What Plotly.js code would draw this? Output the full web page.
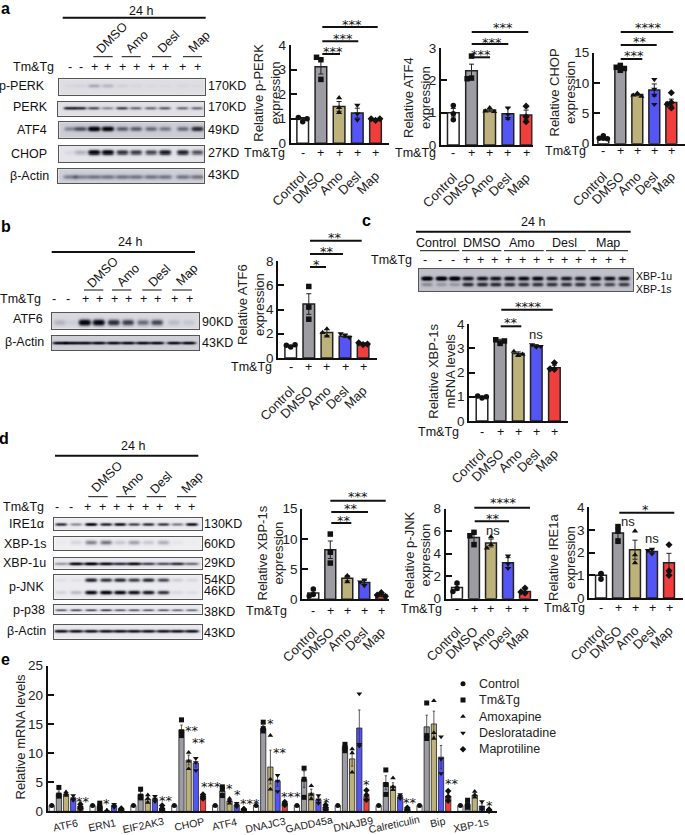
<!DOCTYPE html>
<html><head><meta charset="utf-8">
<script src="https://cdn.plot.ly/plotly-3.0.1.min.js"></script>
<style>html,body{margin:0;padding:0;background:#fff}#g{width:685px;height:835px}</style>
</head><body><div id="g"></div>
<script>
// ---------- DATA ----------
const groupNames=['Control','DMSO','Amo','Desl','Map'];
const groupColors=['#ffffff','#9c9ca2','#bdb27a','#5555f5','#f23d3d'];
const groupSymbols=['circle','square','triangle-up','triangle-down','diamond'];

const pPerkMeans=[1.0,3.12,1.5,1.23,0.98], pPerkErr=[0.05,0.3,0.2,0.2,0.03];
const pPerkPts=[[0.88,1.05,1.0],[3.4,3.5,2.6],[1.85,1.45,1.25],[1.55,1.2,0.95],[0.93,1.0,1.0]];
const atf4Means=[1.0,2.3,1.08,0.97,0.93], atf4Err=[0.13,0.2,0.05,0.18,0.15];
const atf4Pts=[[1.22,0.97,0.78],[2.75,2.07,2.05],[1.15,1.05,1.03],[1.15,0.95,0.82],[1.2,0.87,0.72]];
const chopMeans=[1.0,12.5,8.1,8.85,6.8], chopErr=[0.2,0.2,0.2,1.0,0.55];
const chopPts=[[1.3,0.9,0.8,0.9],[12.9,12.6,12.4,12.1],[8.3,8.2,8.0,7.8],[10.6,9.0,8.0,6.5],[8.4,6.8,6.5,5.9]];
const atf6Means=[1.0,4.45,2.1,1.8,1.2], atf6Err=[0.05,0.85,0.25,0.12,0.04];
const atf6Pts=[[0.9,1.05,1.1],[5.9,4.2,3.2],[2.4,2.1,1.8],[1.9,2.0,1.7],[1.1,1.25,1.15]];
const xbpMrnaMeans=[1.0,3.3,2.78,3.1,2.2], xbpMrnaErr=[0.03,0.07,0.07,0.05,0.1];
const xbpMrnaPts=[[0.95,1.03,1.0],[3.2,3.35,3.3],[2.7,2.87,2.75],[3.05,3.15,3.08],[2.13,2.4,2.15]];
const xbpMeans=[1.05,8.2,3.5,2.8,0.75], xbpErr=[0.35,1.45,0.45,0.3,0.3];
const xbpPts=[[1.7,0.8,0.55],[10.8,7.8,6.0],[3.9,3.8,2.9],[3.2,2.9,2.3],[1.1,0.7,0.5]];
const pJnkMeans=[1.0,5.45,4.95,3.2,0.65], pJnkErr=[0.25,0.45,0.35,0.45,0.15];
const pJnkPts=[[1.4,0.9,0.65],[5.9,5.6,4.8],[5.5,4.8,4.5],[3.8,3.1,2.7],[0.95,0.6,0.5]];
const ireMeans=[1.0,2.87,2.13,2.05,1.55], ireErr=[0.1,0.25,0.42,0.07,0.42];
const irePts=[[1.08,1.05,0.83],[3.15,2.95,2.5],[2.95,1.9,1.55],[2.15,2.1,1.95],[2.35,1.2,1.0]];

const genes=['ATF6','ERN1','EIF2AK3','CHOP','ATF4','DNAJC3','GADD45a','DNAJB9','Calreticulin','Bip','XBP-1s'];
const legendNames=['Control','Tm&Tg','Amoxapine','Desloratadine','Maprotiline'];
const mrnaControl=[1,1,1,1,1,1,1,1,1,1,1];
const mrnaTm=[3.0,0.9,2.9,14,3.5,14.2,5.5,11.1,4.9,14.5,1.2];
const mrnaAmo=[2.9,0.1,2.1,8.8,1.8,7.6,3.1,9,4.3,15,2.8];
const mrnaDes=[2.2,1.0,2.1,8.3,1.1,5.2,2,14.3,2.5,9.3,0.9];
const mrnaMap=[0.8,0.35,0.5,2.6,0.3,1.3,0.7,2.6,0.4,2.6,0.2];
const mrnaTmErr=[0.5,0.3,0.5,0.8,0.4,0.5,1.4,0.3,1.2,2,0.35];
const mrnaAmoErr=[0.2,0.05,0.4,0.85,0.25,2.9,0.7,1.25,0.6,2.2,0.3];
const mrnaDesErr=[0.3,0.15,0.3,0.7,0.2,0.9,0.4,3.1,0.2,2,0.4];
const mrnaMapErr=[0.2,0.1,0.2,0.2,0.05,0.15,0.2,0.5,0.1,0.5,0.05];
const mrnaTmPts=[[4.1,2.8,2.6],[1.4,0.8,0.4],[3.8,2.6,2.3],[15.7,13.6,13],[4.2,3.8,2.7],[15.3,14.2,13.8],[7.4,5.5,2.4],[11.5,11,10.4],[7.1,4.6,2.9],[18.6,13,12.5],[1.9,1.1,0.7]];
const mrnaAmoPts=[[3.3,3.0,2.7],[0.2,0.1,0.05],[2.8,2.2,1.5],[10.1,8.6,7.3],[2.2,1.8,1.4],[13,5.5,3.8],[4.4,2.9,2.1],[10.7,10,6.7],[5.7,4.2,3.7],[19,13.5,12.5],[3.4,2.8,2.4]];
const mrnaDesPts=[[2.7,2.2,1.9],[1.2,0.9,0.7],[2.6,2.1,1.7],[9.1,8.4,7],[1.4,1.1,0.8],[6.2,5.2,3.4],[2.7,2,1.4],[20.2,11.5,11.2],[2.9,2.6,2.2],[12.8,9,6.5],[1.7,0.7,0.3]];
const mrnaMapPts=[[1.2,0.8,0.5],[0.5,0.3,0.2],[1.0,0.5,0.2],[2.9,2.6,2.2],[0.4,0.3,0.2],[1.6,1.3,1.1],[1.1,0.7,0.3],[3.6,2.8,2.0],[0.6,0.4,0.2],[3.5,2.5,1.8],[0.3,0.2,0.1]];

// Western-blot band strength per lane (0..1)
const bPPerk=[.03,.04,.2,.15,.05,.03,.02,.02,.03,.02];
const bPerk=[.7,.65,.5,.3,.55,.4,.4,.45,.4,.4];
const bAtf4=[.25,.45,.95,.9,.4,.4,.35,.3,.35,.65];
const bChop=[.05,.2,1,1,.7,.65,.6,.85,.8,.55];
const bActinA=[.28,.28,.32,.32,.32,.32,.32,.32,.32,.32];
const bAtf6=[.15,.05,1,.95,.7,.6,.4,.55,.12,.08];
const bActinB=[.8,.8,.8,.8,.8,.8,.8,.8,.8,.8];
const bXbpU=[1,1,1,.75,.75,.75,.8,.8,.85,.7,.7,.7,.85,.75,.75];
const bXbpS=[.2,.15,.15,.6,.6,.6,.55,.55,.55,.55,.55,.55,.45,.45,.5];
const bIre=[.7,.35,.95,.75,.85,.6,.7,.65,.4,.85];
const bXbp1s=[.02,.1,.4,.45,.15,.3,.15,.25,.04,.01];
const bXbp1u=[.3,.9,1,.9,.7,.9,.6,.55,.7,.45];
const bJnk54=[.05,.05,.8,.7,.75,.65,.75,.6,.12,.08];
const bJnk46=[.1,.2,.95,1,.95,.9,.85,.7,.08,.06];
const bP38=[.5,.55,.55,.6,.5,.5,.5,.5,.45,.45];
const bActinD=[.85,.85,.85,.85,.85,.85,.85,.85,.85,.85];

// ---------- LAYOUT (pixel geometry of the figure) ----------
const W=685,H=835,FONT='"Liberation Sans",Arial,sans-serif',FS=12.5;
const lanesA=[70,80.7,94,107.7,122.3,136,151,165,182.7,197.3];
const lanesB=[60,72,85,99,114,128.3,143.3,157.3,174.3,189];
const lanesC=[427.3,441.7,455,468.3,482.7,496,510,524,538,552.3,566.7,580.7,595.7,610,624.3];
const lanesD=[61,76,91,106,120,134,148.3,163.3,177.3,191.7];

const blots=[
 {box:[59.3,205,79.3,94.7],lanes:lanesA,bands:[[.42,bPPerk]],bg:.1,w:6,h:2},
 {box:[57.7,204.3,101.7,115.7],lanes:lanesA,bands:[[.45,bPerk]],bg:.09,w:6,h:1.6},
 {box:[59.3,204.3,122.3,137.7],lanes:lanesA,bands:[[.42,bAtf4]],bg:.17,w:6,h:2.4},
 {box:[59.3,204.3,146,162.3],lanes:lanesA,bands:[[.39,bChop]],bg:.07,w:6,h:2.4},
 {box:[58.3,203.7,169.3,183],lanes:lanesA,bands:[[.55,bActinA]],bg:.16,w:7,h:2.4},
 {box:[51.7,199.3,312.7,328.7],lanes:lanesB,bands:[[.6,bAtf6]],bg:.12,w:6,h:3},
 {box:[51.7,199.3,335.7,350.3],lanes:lanesB,bands:[[.52,bActinB]],bg:.16,w:7,h:1.5},
 {box:[418.7,633.3,268.7,291],lanes:lanesC,bands:[[.43,bXbpU],[.7,bXbpS]],bg:.22,w:5.5,h:2},
 {box:[54.3,202.3,518.3,530.3],lanes:lanesD,bands:[[.5,bIre]],bg:.04,w:6,h:1.6},
 {box:[54.3,201.7,537.3,550],lanes:lanesD,bands:[[.4,bXbp1s]],bg:.03,w:6,h:2.4},
 {box:[54.3,201.7,558,568.7],lanes:lanesD,bands:[[.55,bXbp1u]],bg:.05,w:7,h:1.6},
 {box:[54.3,201.7,575.3,598.7],lanes:lanesD,bands:[[.2,bJnk54],[.73,bJnk46]],bg:.04,w:6,h:2},
 {box:[54.3,201.7,605,613.7],lanes:lanesD,bands:[[.6,bP38]],bg:.05,w:6,h:1.2},
 {box:[54.3,201.7,625,638.7],lanes:lanesD,bands:[[.46,bActinD]],bg:.05,w:7,h:1.6},
];

const charts=[
 {m:pPerkMeans,e:pPerkErr,p:pPerkPts,x0:290.7,x1:389,yt:45,yb:143.3,c0:302.7,st:18.2,ymax:4,dt:1,
  title:'Relative p-PERK<br>expression',tx:267,ty:92.7,tm:[264.3,152.7],
  sig:[[322.3,340,54,'***',332.7,49],[322.3,358.3,41.3,'***',343.3,36],[322.3,377.7,27,'***',352.3,22]]},
 {m:atf4Means,e:atf4Err,p:atf4Pts,x0:441,x1:532.7,yt:48,yb:145,c0:453.3,st:18.2,ymax:3,dt:1,
  title:'Relative ATF4<br>expression',tx:417,ty:98,tm:[415,152.7],
  sig:[[471.7,490,57.3,'***',481.3,52],[471.7,508.3,44,'***',492.3,39.7],[471.7,528.3,32,'***',503.3,25]]},
 {m:chopMeans,e:chopErr,p:chopPts,x0:594,x1:685,yt:52.7,yb:143.7,c0:603.3,st:17,ymax:15,dt:5,
  title:'Relative CHOP<br>expression',tx:562.5,ty:93,tm:[565.7,151],
  sig:[[620.7,642.3,59,'***',634.3,53],[620.7,656.7,45,'**',640,39],[620.7,673.3,32,'****',648.3,25]]},
 {m:atf6Means,e:atf6Err,p:atf6Pts,x0:278.3,x1:376.7,yt:261,yb:358,c0:290.7,st:18.1,ymax:8,dt:2,
  title:'Relative ATF6<br>expression',tx:251,ty:305,tm:[252,366.7],
  sig:[[310,326,267,'*',316.7,262],[310,343,254,'**',326.7,248.7],[310,361.7,240.7,'**',335,235]]},
 {m:xbpMrnaMeans,e:xbpMrnaErr,p:xbpMrnaPts,x0:469.3,x1:568.3,yt:324,yb:421,c0:482,st:18.1,ymax:4,dt:1,
  title:'Relative XBP-1s<br>mRNA levels',tx:442,ty:371.7,tm:[438.7,431.7],
  sig:[[500.7,521.3,326.3,'**',510.7,320],[501.3,552.7,309.7,'****',528.3,304.3]],ns:[[535.7,334]]},
 {m:xbpMeans,e:xbpErr,p:xbpPts,x0:302.3,x1:389.3,yt:508.7,yb:599.3,c0:313.3,st:17,ymax:15,dt:5,
  title:'Relative XBP-1s<br>expression',tx:270.5,ty:553,tm:[266,611],
  sig:[[331.3,351.3,523,'**',343.7,518],[331.3,368,512,'**',350.7,506.3],[330.3,385.7,500.7,'***',358.3,494.3]]},
 {m:pJnkMeans,e:pJnkErr,p:pJnkPts,x0:445.7,x1:537.7,yt:508.7,yb:598.7,c0:457,st:17,ymax:8,dt:2,
  title:'Relative p-JNK<br>expression',tx:417.5,ty:555,tm:[421,608.7],
  sig:[[474.7,509,521.3,'**',493.3,516.3],[474.3,530,507.7,'****',503.3,500.3]],ns:[[492.7,530.7]]},
 {m:ireMeans,e:ireErr,p:irePts,x0:589.3,x1:683,yt:507.3,yb:598,c0:601,st:17,ymax:4,dt:1,
  title:'Relative IRE1a<br>expression',tx:562,ty:558,tm:[564,607.7],
  sig:[[619.3,674.3,512.7,'*',645.7,507.3]],ns:[[628.3,521.3],[652.3,538.3]]},
];

const eAxis={x0:47.7,x1:496.7,yt:665.7,yb:811.3,c0:51.7,period:40.87,bar:7.17,ymax:25,dt:5};
const eGeneX=[65,101.7,143.3,189.3,224.3,265,309.3,353,394,437.7,470.7];
const eGeneY=[825,825,824.5,824,824,825,824,824,823.5,822,825];
const eStars=[[83.3,799,'**'],[106.7,800.7,'*'],[165.7,798.3,'**'],[192,728,'**'],[199.3,739.7,'**'],[210.7,784,'***'],
 [230,785.7,'*'],[237.3,791.7,'*'],[250,800.7,'***'],[270.7,720.7,'*'],[280,749.7,'**'],[290.7,794,'***'],[326.7,800,'*'],
 [366.7,782.3,'*'],[410,800,'**'],[451.7,781.3,'**'],[489.3,803,'*']];
const legendRows={x0:453,x1:473,yt:675.5,yb:757.5,textX:478.3};

const headers=[
 {h24:[140.7,11],line:[62.7,205.7,17.7],gy:56.7,
  groups:[[93.3,112.7,'DMSO',111.7,37.7],[121.7,140.7,'Amo',136.7,41.7],[152,171.3,'Desl',168.3,41.7],[183,202,'Map',199,41.7]],
  tm:[33.3,66.7],signs:[[70,'-'],[80.7,'-'],[94,'+'],[107.7,'+'],[122.3,'+'],[136,'+'],[151,'+'],[165,'+'],[182.7,'+'],[197.3,'+']]},
 {h24:[130,241.7],line:[51.7,195,252],gy:290,
  groups:[[84,103.3,'DMSO',103.3,272.3],[112,131.3,'Amo',128.3,274.7],[142.3,161.7,'Desl',159.3,276],[172.3,192,'Map',187,275]],
  tm:[20.7,299],signs:[[54.3,'-'],[68.3,'-'],[85,'+'],[99,'+'],[114,'+'],[128.3,'+'],[143.3,'+'],[157.3,'+'],[174.3,'+'],[189,'+']]},
 {h24:[133.3,445.7],line:[55,198.3,455.7],gy:496.7,
  groups:[[88.3,107.7,'DMSO',106.7,476.7],[116.3,135.7,'Amo',132.3,482.7],[146.7,166,'Desl',161,483.3],[177,196.3,'Map',191.7,482.7]],
  tm:[23.3,506.7],signs:[[56.7,'-'],[71,'-'],[87.3,'+'],[102,'+'],[116.3,'+'],[130.7,'+'],[145,'+'],[159.3,'+'],[177.7,'+'],[191.7,'+']]},
];
const blotLabels=[['p-PERK',22,86],['PERK',30.7,107],['ATF4',32,130],['CHOP',29,154],['β-Actin',29.3,175.7],
 ['ATF6',28.3,319],['β-Actin',24,342.3],
 ['IRE1α',26.7,524],['XBP-1s',25,544.3],['XBP-1u',24.3,563.3],['p-JNK',26,587.3],['p-p38',29.3,610.3],['β-Actin',26,631]];
const kdLabels=[['170KD',206.7,86],['170KD',206.7,107],['49KD',206.7,130],['27KD',206.7,153],['43KD',206.7,175],
 ['90KD',201,321.7],['43KD',201,343],
 ['130KD',202.7,524],['60KD',202.7,543.7],['29KD',202.7,563.3],['54KD',202.7,580],['46KD',202.7,591.3],['38KD',202.7,612.3],['43KD',202.7,632.7]];
const panelLetters=[['a',5,9],['b',6,226],['c',366.7,220],['d',4,438],['e',5.7,659]];

// ---------- BUILD ----------
const px=x=>x/W, py=y=>1-y/H;
const traces=[],annotations=[],shapes=[],layout={
 width:W,height:H,margin:{l:0,r:0,t:0,b:0},paper_bgcolor:'#fff',plot_bgcolor:'rgba(0,0,0,0)',
 font:{family:FONT,size:FS,color:'#111'},showlegend:false,bargap:0
};
let axN=0;
function newAxes(xo,yo){axN++;const k=axN===1?'':axN;
 layout['xaxis'+k]=Object.assign({anchor:'y'+k,fixedrange:true},xo);
 layout['yaxis'+k]=Object.assign({anchor:'x'+k,fixedrange:true},yo);
 return {x:'x'+k,y:'y'+k};}
function T(x,y,text,o={}){annotations.push(Object.assign({xref:'paper',yref:'paper',x:px(x),y:py(y),text,showarrow:false,
  xanchor:'center',yanchor:'middle',borderpad:0,font:{family:FONT,size:FS,color:'#111'}},o));}
function L(x0,x1,y,w=1){shapes.push({type:'line',xref:'paper',yref:'paper',x0:px(x0),x1:px(x1),y0:py(y),y1:py(y),line:{color:'#111',width:w}});}
const starFont={family:'"DejaVu Sans",sans-serif',size:13,color:'#111'};

// Blots: band strengths per lane become an image-like heatmap
const blotScale=[[0,'#f6f6f8'],[.25,'#b9b9c4'],[.6,'#55555f'],[1,'#08080e']];
blots.forEach(b=>{
 const [l,r,t,bo]=b.box,xs=[],ys=[],z=[];
 for(let x=l;x<=r;x+=1)xs.push(x);
 for(let y=t;y<=bo;y+=.5)ys.push(y);
 ys.forEach(y=>{z.push(xs.map(x=>{let v=b.bg;
  b.bands.forEach(([f,vals])=>{const yc=t+(bo-t)*f;
   b.lanes.forEach((c,i)=>{v+=vals[i]*Math.exp(-Math.pow((x-c)/b.w,4))*Math.exp(-Math.pow((y-yc)/b.h,2));});});
  return Math.min(v,1);}));});
 const a=newAxes(
  {domain:[px(l),px(r)],range:[l,r],showticklabels:false,ticks:'',showgrid:false,zeroline:false,showline:true,mirror:true,linecolor:'#555',linewidth:1},
  {domain:[py(bo),py(t)],range:[bo,t],showticklabels:false,ticks:'',showgrid:false,zeroline:false,showline:true,mirror:true,linecolor:'#555',linewidth:1});
 traces.push({type:'heatmap',x:xs,y:ys,z,zmin:0,zmax:1,colorscale:blotScale,showscale:false,hoverinfo:'skip',showlegend:false,xaxis:a.x,yaxis:a.y});
});

// Point placement: avoid overlap inside a bar (pixel distance)
function swarm(vals,unitPx,stepPx){const placed=[],cand=[0,-.24,.24,-.12,.12];
 return vals.map(v=>{for(const c of cand){
   if(placed.every(p=>Math.hypot((p[0]-c)*stepPx,(p[1]-v)*unitPx)>4.2)){placed.push([c,v]);return c;}}
   placed.push([0,v]);return 0;});}

// Bar panels a-d
charts.forEach(c=>{
 const ticks=[];for(let v=0;v<=c.ymax;v+=c.dt)ticks.push(v);
 const a=newAxes(
  {domain:[px(c.x0),px(c.x1)],range:[(c.x0-c.c0)/c.st,(c.x1-c.c0)/c.st],tickmode:'array',tickvals:[0,1,2,3,4],ticktext:groupNames,
   tickangle:-45,ticks:'',ticklabelstandoff:18,showgrid:false,zeroline:false,showline:true,linecolor:'#111',linewidth:2,tickfont:{family:FONT,size:13,color:'#222'}},
  {domain:[py(c.yb),py(c.yt)],range:[0,c.ymax],tickmode:'array',tickvals:ticks,ticks:'inside',ticklen:6,tickwidth:2,tickcolor:'#111',
   showgrid:false,zeroline:false,showline:true,linecolor:'#111',linewidth:2,tickfont:{family:FONT,size:13.5,color:'#222'}});
 traces.push({type:'bar',x:[0,1,2,3,4],y:c.m,width:.64,marker:{color:groupColors,line:{color:'#222',width:1.5}},
  error_y:{type:'data',array:c.e,visible:true,thickness:1,width:2.5,color:'#222'},showlegend:false,hoverinfo:'skip',cliponaxis:false,xaxis:a.x,yaxis:a.y});
 const unit=(c.yb-c.yt)/c.ymax,xs=[],ys=[],sy=[];
 c.p.forEach((vals,i)=>{const off=swarm(vals,unit,c.st);vals.forEach((v,j)=>{xs.push(i+off[j]);ys.push(v);sy.push(groupSymbols[i]);});});
 traces.push({type:'scatter',mode:'markers',x:xs,y:ys,marker:{symbol:sy,size:5.5,color:'#111'},showlegend:false,hoverinfo:'skip',cliponaxis:false,xaxis:a.x,yaxis:a.y});
 T(c.tx,c.ty,c.title,{textangle:-90,font:{family:FONT,size:13,color:'#222'}});
 T(c.tm[0],c.tm[1],'Tm&amp;Tg');
 ['-','+','+','+','+'].forEach((s,i)=>T(c.c0+c.st*i,c.tm[1],s));
 c.sig.forEach(s=>{L(s[0],s[1],s[2],2);T(s[4],s[5]+2.5,s[3],{font:starFont});});
 (c.ns||[]).forEach(n=>T(n[0],n[1],'ns',{font:{family:FONT,size:13,color:'#222'}}));
});

// Panel e
(function(){
 const ax=eAxis,ticks=[];for(let v=0;v<=ax.ymax;v+=ax.dt)ticks.push(v);
 const a=newAxes(
  {domain:[px(ax.x0),px(ax.x1)],range:[(ax.x0-ax.c0)/ax.period,(ax.x1-ax.c0)/ax.period],showticklabels:false,ticks:'',showgrid:false,zeroline:false,showline:true,linecolor:'#111',linewidth:2},
  {domain:[py(ax.yb),py(ax.yt)],range:[0,ax.ymax],tickmode:'array',tickvals:ticks,ticks:'inside',ticklen:6,tickwidth:2,tickcolor:'#111',
   showgrid:false,zeroline:false,showline:true,linecolor:'#111',linewidth:2,tickfont:{family:FONT,size:13.5,color:'#222'}});
 const means=[mrnaControl,mrnaTm,mrnaAmo,mrnaDes,mrnaMap];
 const zeros=mrnaControl.map(()=>0.03);
 const errs=[zeros,mrnaTmErr,mrnaAmoErr,mrnaDesErr,mrnaMapErr];
 const pts=[mrnaControl.map(v=>[v]),mrnaTmPts,mrnaAmoPts,mrnaDesPts,mrnaMapPts];
 const off=ax.bar/ax.period;
 means.forEach((m,s)=>{
  traces.push({type:'bar',x:m.map((_,i)=>i+s*off),y:m,width:.128,marker:{color:groupColors[s],line:{color:'#222',width:.8}},
   error_y:{type:'data',array:errs[s],visible:true,thickness:.8,width:1.2,color:'#333'},showlegend:false,hoverinfo:'skip',cliponaxis:false,xaxis:a.x,yaxis:a.y});
 });
 means.forEach((m,s)=>{const xs=[],ys=[];
  pts[s].forEach((vals,i)=>vals.forEach(v=>{xs.push(i+s*off);ys.push(v);}));
  traces.push({type:'scatter',mode:'markers',name:legendNames[s],x:xs,y:ys,marker:{symbol:groupSymbols[s],size:5,color:'#111'},showlegend:false,hoverinfo:'skip',cliponaxis:false,xaxis:a.x,yaxis:a.y});
 });
 genes.forEach((g,i)=>T(eGeneX[i],eGeneY[i],g,{textangle:-12,font:{family:FONT,size:10.5,color:'#222'}}));
 eStars.forEach(s=>T(s[0],s[1]+2.5,s[2],{font:starFont}));
 T(20.7,736.7,'Relative mRNA levels',{textangle:-90,font:{family:FONT,size:13,color:'#222'}});
 // Key for panel e: one marker per series on its own row
 const lr=legendRows;
 const k=newAxes({domain:[px(lr.x0),px(lr.x1)],range:[-1,1],visible:false},{domain:[py(lr.yb),py(lr.yt)],range:[4.5,-.5],visible:false});
 legendNames.forEach((n,i)=>{
  traces.push({type:'scatter',mode:'markers',name:n,x:[0],y:[i],marker:{symbol:groupSymbols[i],size:5,color:'#111'},showlegend:false,hoverinfo:'skip',xaxis:k.x,yaxis:k.y});
  T(lr.textX,lr.yt+(lr.yb-lr.yt)*(i+.5)/5,n.replace('&','&amp;'),{xanchor:'left',font:{family:FONT,size:12.5,color:'#222'}});
 });
})();

// Blot headers
headers.forEach(h=>{
 T(h.h24[0],h.h24[1],'24 h');L(h.line[0],h.line[1],h.line[2],2);
 h.groups.forEach(g=>{L(g[0],g[1],h.gy,1);T(g[3],g[4],g[2],{textangle:-45});});
 T(h.tm[0],h.tm[1],'Tm&amp;Tg');h.signs.forEach(s=>T(s[0],h.tm[1],s[1]));
});
// Panel c header
(function(){
 T(533.3,222.3,'24 h');L(416,630.7,231.7,2);
 [['Control',435.7,420,459.3],['DMSO',482.3,462,501.3],['Amo',521.7,504,543.7],['Desl',564,546,585.7],['Map',608,588.3,628]]
  .forEach(g=>{T(g[1],242.7,g[0]);L(g[2],g[3],250.7,1);});
 T(391,260,'Tm&amp;Tg');
 lanesC.forEach((x,i)=>T(x-2,260,i<3?'-':'+'));
 T(635.3,276,'XBP-1u',{xanchor:'left',font:{family:FONT,size:10.5,color:'#111'}});
 T(635.3,288.7,'XBP-1s',{xanchor:'left',font:{family:FONT,size:10.5,color:'#111'}});
})();
blotLabels.forEach(l=>T(l[1],l[2],l[0]));
kdLabels.forEach(l=>T(l[1],l[2],l[0],{xanchor:'left'}));
panelLetters.forEach(l=>T(l[1],l[2],'<b>'+l[0]+'</b>',{font:{family:FONT,size:16,color:'#000'}}));

layout.annotations=annotations;layout.shapes=shapes;
Plotly.newPlot('g',traces,layout,{displayModeBar:false,staticPlot:true});
</script></body></html>
